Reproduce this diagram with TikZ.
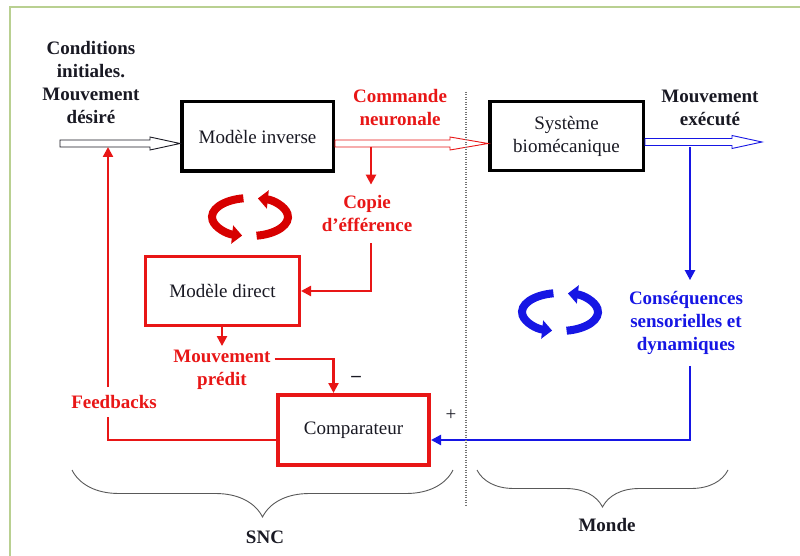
\documentclass[tikz,border=0pt]{standalone}
\usepackage{fontspec}
\setmainfont{Liberation Serif}
\usetikzlibrary{arrows.meta,decorations.pathreplacing,calc}

\definecolor{dred}{RGB}{232,22,22}
\definecolor{cred}{RGB}{215,0,0}
\definecolor{dblue}{RGB}{22,22,228}
\definecolor{frameg}{RGB}{185,208,145}
\definecolor{ink}{RGB}{25,25,35}

\tikzset{
  box/.style={draw, line width=3.5pt, minimum width=152pt, minimum height=70pt,
    font=\fontsize{19}{23}\selectfont, text=ink, align=center, fill=white},
  lbl/.style={font=\bfseries\fontsize{19}{23}\selectfont, align=center, inner sep=0pt},
  conn/.style={line width=2.3pt, -{Triangle[width=10pt,length=10pt]}},
  bracestyle/.style={draw=black!65, line width=0.9pt, decorate},
}

\newcommand\hollowarr[4]{%
  \draw[#3, line width=0.9pt, fill=white, line join=miter]
    let \p1=(#1), \p2=(#2) in
    (\x1,\y1+3.5pt) -- (\x2-#4,\y1+3.5pt) -- (\x2-#4,\y1+6.5pt) -- (\x2,\y1)
    -- (\x2-#4,\y1-6.5pt) -- (\x2-#4,\y1-3.5pt) -- (\x1,\y1-3.5pt) -- cycle;}

\newcommand\cyclearrows[2]{%
  \draw[#2, line width=8pt, -{Triangle[width=18pt,length=10pt]}]
    ([shift={(100:38pt and 19pt)}]#1) arc[start angle=100, end angle=258, x radius=38pt, y radius=19pt];
  \draw[#2, line width=8pt, -{Triangle[width=18pt,length=10pt]}]
    ([shift={(-80:38pt and 19pt)}]#1) arc[start angle=-80, end angle=78, x radius=38pt, y radius=19pt];}

\begin{document}
\begin{tikzpicture}[x=1pt, y=-1pt]
\useasboundingbox (0,0) rectangle (800,556);

% frame
\draw[frameg, line width=1.5pt] (10,556) -- (10,7) -- (800,7);

% boxes
\node[box] (mi) at (257.5,136.5) [minimum width=151.5pt, minimum height=69.5pt] {Modèle inverse};
\node[box] (sb) at (566.5,136) [minimum width=153.5pt, minimum height=69pt] {Système\\biomécanique};
\node[box, draw=dred, line width=3pt] (md) at (222.5,291) [minimum width=154pt, minimum height=69pt] {Modèle direct};
\node[box, draw=dred, line width=4pt] (cp) at (353.5,430) [minimum width=151pt, minimum height=70pt] {Comparateur};

% labels
\node[lbl, text=ink] (cond) at (91,83) {Conditions\\initiales.\\Mouvement\\désiré};
\node[lbl, text=dred] (cmd) at (400,108) {Commande\\neuronale};
\node[lbl, text=ink] (mex) at (710,108) {Mouvement\\exécuté};
\node[lbl, text=dred, inner ysep=11pt] (ce) at (367,214) {Copie\\d’éfférence};
\node[lbl, text=dred, inner ysep=4pt] (mp) at (222,370) {Mouvement\\prédit};
\node[lbl, text=dblue, inner ysep=11pt] (cs) at (686,323) {Conséquences\\sensorielles et\\dynamiques};
\node[lbl, text=dred, inner ysep=8pt] (fb) at (114,402) {Feedbacks};
\node[font=\bfseries\fontsize{19}{23}\selectfont, text=ink] (minus) at (356,379) {–};
\node[font=\fontsize{19}{23}\selectfont, text=ink] (plus) at (451,415) {+};
\node[lbl, text=ink] (snc) at (265,537) {SNC};
\node[lbl, text=ink] (monde) at (607,525) {Monde};

% coordinates
\coordinate (in0) at (60,143.5);
\coordinate (out0) at (762,142.5);
\coordinate (c1) at (371,147);
\coordinate (b1) at (690,147);
\coordinate (fbtop) at (108,147);
\coordinate (dtop) at (466,92);
\coordinate (dbot) at (466,505);
\coordinate (rc) at (250,217);
\coordinate (bc) at (560,312);
\coordinate (br1) at (72,470);
\coordinate (br2) at (453,470);
\coordinate (br3) at (477,470);
\coordinate (br4) at (728,470);

% hollow arrows
\hollowarr{in0}{[yshift=-7pt]mi.west}{ink}{30pt}
\hollowarr{[yshift=-7pt]mi.east}{[yshift=-7pt]sb.west}{dred}{38pt}
\hollowarr{[yshift=-6pt]sb.east}{out0}{dblue}{30pt}

% red connectors
\draw[conn, dred] (c1) -- (ce.north -| c1);
\draw[conn, dred] (ce.south -| c1) |- (md.east);
\draw[conn, dred] (md.south -| mp.north) -- (mp.north);
\draw[conn, dred] ([shift={(4pt,11pt)}]mp.east) -| ([xshift=-20pt]cp.north);
\draw[dred, line width=2.3pt] ([yshift=-10pt]cp.west) -| (fb.south -| fbtop);
\draw[conn, dred] (fb.north -| fbtop) -- (fbtop);

% blue connectors
\draw[conn, dblue] (b1) -- (cs.north -| b1);
\draw[conn, dblue] (cs.south -| b1) |- ([yshift=-10pt]cp.east);

% cycle icons
\cyclearrows{rc}{cred}
\cyclearrows{bc}{dblue}

% dotted separator
\draw[black!55, line width=1.3pt, dash pattern=on 1pt off 1.5pt] (dtop) -- (dbot);

% braces
\draw[bracestyle, decoration={brace, mirror, amplitude=47pt}] (br1) -- (br2);
\draw[bracestyle, decoration={brace, mirror, amplitude=37pt}] (br3) -- (br4);
\end{tikzpicture}
\end{document}
